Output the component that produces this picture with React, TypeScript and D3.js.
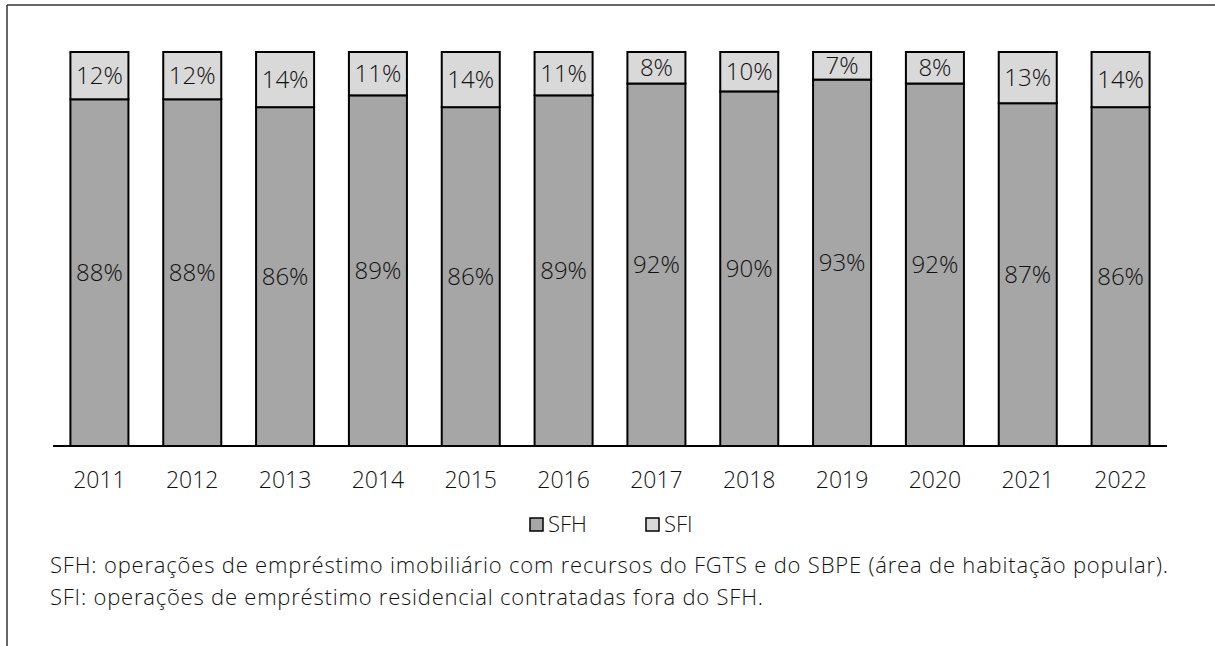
import React from "react";
import * as d3 from "d3";

const years = ["2011", "2012", "2013", "2014", "2015", "2016", "2017", "2018", "2019", "2020", "2021", "2022"];
const sfh = [88, 88, 86, 89, 86, 89, 92, 90, 93, 92, 87, 86];
const sfi = [12, 12, 14, 11, 14, 11, 8, 10, 7, 8, 13, 14];
const seriesNames = ["SFH", "SFI"];
const seriesColors = ["#a6a6a6", "#d9d9d9"];
const notes = [
  "SFH: operações de empréstimo imobiliário com recursos do FGTS e do SBPE (área de habitação popular).",
  "SFI: operações de empréstimo residencial contratadas fora do SFH.",
];
const noteWidths = [1118, 713];

const W = 1215;
const H = 646;
const FONT = "'Open Sans', 'DejaVu Sans', sans-serif";

export default function App() {
  const x = d3.scaleBand<string>().domain(years).range([53, 1167]).paddingInner(0.375).paddingOuter(0.1875);
  const y = d3.scaleLinear().domain([0, 100]).range([446, 52]);

  const rows = years.map((yr, i) => ({ year: yr, SFH: sfh[i], SFI: sfi[i] }));
  const stacked = d3.stack<any>().keys(seriesNames)(rows);

  return (
    <svg width={W} height={H} style={{ position: "absolute", left: 0, top: 0, background: "#fff" }}>
      {/* outer frame */}
      <line x1={7} y1={5} x2={W} y2={5} stroke="#333" strokeWidth={1.5} />
      <line x1={7} y1={5} x2={7} y2={H} stroke="#333" strokeWidth={1.5} />

      {stacked.map((layer, si) => (
        <g key={layer.key}>
          {layer.map((d, i) => {
            const x0 = x(years[i])!;
            const top = y(d[1]);
            const bot = y(d[0]);
            const val = d[1] - d[0];
            return (
              <g key={years[i]}>
                <rect x={x0} y={top} width={x.bandwidth()} height={bot - top} fill={seriesColors[si]} stroke="#000" strokeWidth={2} />
                <text
                  x={x0 + x.bandwidth() / 2}
                  y={(top + bot) / 2}
                  dy="0.36em"
                  textAnchor="middle"
                  fontFamily={FONT}
                  fontWeight={300}
                  fontSize={24}
                  fill="#111"
                >
                  {val}%
                </text>
              </g>
            );
          })}
        </g>
      ))}

      {/* category axis */}
      <line x1={53} y1={446} x2={1167} y2={446} stroke="#000" strokeWidth={2} />
      {years.map((yr) => (
        <text key={yr} x={x(yr)! + x.bandwidth() / 2} y={488} textAnchor="middle" fontFamily={FONT} fontWeight={300} fontSize={23} fill="#111">
          {yr}
        </text>
      ))}

      {/* legend */}
      {seriesNames.map((name, i) => {
        const lx = 530 + i * 116;
        return (
          <g key={name}>
            <rect x={lx} y={518} width={13} height={13} fill={seriesColors[i]} stroke="#000" strokeWidth={1.5} />
            <text x={lx + 18} y={532} fontFamily={FONT} fontWeight={300} fontSize={22} fill="#111">
              {name}
            </text>
          </g>
        );
      })}

      {/* footnotes */}
      {notes.map((t, i) => (
        <text
          key={i}
          x={50}
          y={573 + i * 32}
          fontFamily={FONT}
          fontWeight={300}
          fontSize={22}
          fill="#111"
          textLength={noteWidths[i]}
          lengthAdjust="spacing"
        >
          {t}
        </text>
      ))}
    </svg>
  );
}
